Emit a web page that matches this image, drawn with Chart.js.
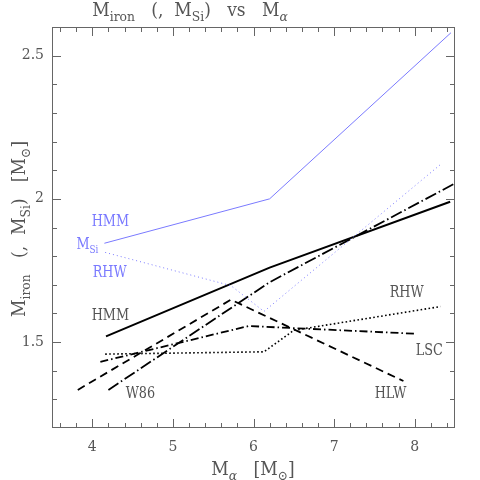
<!DOCTYPE html>
<html>
<head>
<meta charset="utf-8">
<script src="https://cdn.jsdelivr.net/npm/chart.js@4/dist/chart.umd.min.js"></script>
<style>
	html, body { margin: 0; padding: 0; background: #fff; }
	#wrap { width: 480px; height: 480px; }
</style>
</head>
<body>
<div id="wrap"><canvas id="chart-miron"></canvas></div>
<script>
// M_alpha on x, M_iron (or M_Si) on y
const hmmSiX = [4.15, 6.2, 8.45];
const hmmSiY = [1.845, 2.0, 2.58];
const rhwSiX = [4.16, 5.72, 6.13, 8.32];
const rhwSiY = [1.813, 1.697, 1.607, 2.12];

const hmmFeX = [4.17, 6.2, 8.44];
const hmmFeY = [1.52, 1.76, 1.99];
const w86FeX = [4.2, 6.2, 8.5];
const w86FeY = [1.333, 1.709, 2.054];
const hlwFeX = [3.82, 5.72, 7.86];
const hlwFeY = [1.333, 1.648, 1.364];
const lscFeX = [4.1, 5.94, 8.02];
const lscFeY = [1.431, 1.556, 1.529];
const rhwFeX = [4.16, 6.13, 6.5, 8.32];
const rhwFeY = [1.458, 1.466, 1.541, 1.624];

const xMajor = [4, 5, 6, 7, 8];
const yMajor = [1.5, 2, 2.5];

const BLUE = '#7a7aff';
const GREY = '#555';
const FONT = "'DejaVu Serif'";

// text labels next to the curves, placed in data units
const curveLabels = [
	{ parts: [['HMM']], x: 4.224, y: 1.919, color: BLUE },
	{ parts: [['M'], ['Si', 1]], x: 3.94, y: 1.839, color: BLUE },
	{ parts: [['RHW']], x: 4.216, y: 1.74, color: BLUE },
	{ parts: [['HMM']], x: 4.224, y: 1.59, color: GREY },
	{ parts: [['RHW']], x: 7.90, y: 1.671, color: GREY },
	{ parts: [['LSC']], x: 8.18, y: 1.468, color: GREY },
	{ parts: [['W86']], x: 4.597, y: 1.319, color: GREY },
	{ parts: [['HLW']], x: 7.70, y: 1.319, color: GREY }
];

function toPoints(xs, ys) {
	return xs.map((x, i) => ({ x: x, y: ys[i] }));
}

function isMajor(v, list) {
	return list.some((m) => Math.abs(m - v) < 1e-6);
}

// minor + major tick values between lo and hi
function tickValues(lo, hi, step) {
	let out = [];
	let n = Math.round((hi - lo) / step);
	for (let i = 0; i <= n; i++) out.push({ value: Math.round((lo + i * step) * 1000) / 1000 });
	return out;
}

// draw a string made of normal and subscript pieces, centred on x
function drawRich(ctx, parts, x, y, size, squeeze) {
	const subSize = Math.round(size * 0.7);
	const sq = squeeze || 1;
	let total = 0;
	parts.forEach((p) => {
		ctx.font = (p[2] ? 'italic ' : '') + (p[1] ? subSize : size) + 'px ' + FONT;
		total += ctx.measureText(p[0]).width;
	});
	ctx.save();
	ctx.translate(x, y);
	ctx.scale(sq, 1);
	let cx = -total / 2;
	parts.forEach((p) => {
		ctx.font = (p[2] ? 'italic ' : '') + (p[1] ? subSize : size) + 'px ' + FONT;
		ctx.fillText(p[0], cx, p[1] ? size * 0.3 : 0);
		cx += ctx.measureText(p[0]).width;
	});
	ctx.restore();
}

const framePlugin = {
	id: 'frame',
	afterDraw(chart) {
		const ctx = chart.ctx;
		const a = chart.chartArea;
		const xs = chart.scales.x;
		const ys = chart.scales.y;
		ctx.save();
		ctx.strokeStyle = '#666';
		ctx.lineWidth = 1;
		ctx.strokeRect(a.left + 0.5, a.top + 0.5, a.right - a.left - 1, a.bottom - a.top - 1);
		ctx.beginPath();
		xs.ticks.forEach((t) => {
			const px = Math.round(xs.getPixelForValue(t.value)) + 0.5;
			const len = isMajor(t.value, xMajor) ? 9 : 5;
			ctx.moveTo(px, a.bottom); ctx.lineTo(px, a.bottom - len);
			ctx.moveTo(px, a.top); ctx.lineTo(px, a.top + len);
		});
		ys.ticks.forEach((t) => {
			const py = Math.round(ys.getPixelForValue(t.value)) + 0.5;
			const len = isMajor(t.value, yMajor) ? 9 : 5;
			ctx.moveTo(a.left, py); ctx.lineTo(a.left + len, py);
			ctx.moveTo(a.right, py); ctx.lineTo(a.right - len, py);
		});
		ctx.stroke();

		ctx.textBaseline = 'alphabetic';
		ctx.fillStyle = GREY;
		// title
		drawRich(ctx, [['M'], ['iron', 1], ['   (,  M'], ['Si', 1], [')   vs   M'], ['\u03b1', 1, 1]], 190, 16, 18, 0.95);
		// x title
		drawRich(ctx, [['M'], ['\u03b1', 1, 1], ['   [M'], ['\u2299', 1], [']']], 253, 475, 18, 0.95);
		// y title
		ctx.save();
		ctx.translate(25, 229);
		ctx.rotate(-Math.PI / 2);
		drawRich(ctx, [['M'], ['iron', 1], ['   (,  M'], ['Si', 1], [')   [M'], ['\u2299', 1], [']']], 0, 0, 18, 0.95);
		ctx.restore();

		// curve labels
		ctx.textBaseline = 'middle';
		curveLabels.forEach((l) => {
			ctx.fillStyle = l.color;
			drawRich(ctx, l.parts, xs.getPixelForValue(l.x), ys.getPixelForValue(l.y), 16, 0.8);
		});
		ctx.restore();
	}
};

let ctxEl = document.getElementById('chart-miron');
let miChart = new Chart(ctxEl, {
	type: 'scatter',
	data: {
		datasets: [
			{ label: 'HMM Si', data: toPoints(hmmSiX, hmmSiY), borderColor: BLUE, borderWidth: 1 },
			{ label: 'RHW Si', data: toPoints(rhwSiX, rhwSiY), borderColor: BLUE, borderWidth: 1, borderDash: [1, 3] },
			{ label: 'HMM', data: toPoints(hmmFeX, hmmFeY), borderColor: '#000', borderWidth: 2 },
			{ label: 'W86', data: toPoints(w86FeX, w86FeY), borderColor: '#000', borderWidth: 1.8, borderDash: [12, 3, 1.5, 3] },
			{ label: 'HLW', data: toPoints(hlwFeX, hlwFeY), borderColor: '#000', borderWidth: 1.8, borderDash: [8, 5] },
			{ label: 'LSC', data: toPoints(lscFeX, lscFeY), borderColor: '#000', borderWidth: 1.8, borderDash: [8, 3, 1.5, 3] },
			{ label: 'RHW', data: toPoints(rhwFeX, rhwFeY), borderColor: '#000', borderWidth: 1.6, borderDash: [1.6, 2.4] }
		]
	},
	options: {
		responsive: true,
		maintainAspectRatio: false,
		animation: false,
		showLine: true,
		elements: {
			point: { radius: 0 },
			line: { tension: 0, fill: false, borderCapStyle: 'butt' }
		},
		layout: { padding: { top: 27, right: 25, left: 0, bottom: 0 } },
		plugins: {
			legend: { display: false },
			tooltip: { enabled: false }
		},
		scales: {
			x: {
				type: 'linear',
				min: 3.5,
				max: 8.5,
				grid: { display: false, drawTicks: false },
				border: { display: false },
				afterFit: (s) => { s.height = 52; },
				afterBuildTicks: (s) => { s.ticks = tickValues(3.6, 8.4, 0.2); },
				ticks: {
					autoSkip: false,
					maxRotation: 0,
					padding: 11,
					color: GREY,
					font: { family: 'DejaVu Serif', size: 14 },
					callback: (v) => isMajor(v, xMajor) ? String(Math.round(v)) : ''
				}
			},
			y: {
				type: 'linear',
				min: 1.2,
				max: 2.6,
				grid: { display: false, drawTicks: false },
				border: { display: false },
				afterFit: (s) => { s.width = 52; },
				afterBuildTicks: (s) => { s.ticks = tickValues(1.3, 2.5, 0.1); },
				ticks: {
					autoSkip: false,
					padding: 8,
					color: GREY,
					font: { family: 'DejaVu Serif', size: 14 },
					callback: (v) => isMajor(v, yMajor) ? String(parseFloat(v.toFixed(1))) : ''
				}
			}
		}
	},
	plugins: [framePlugin]
});
</script>
</body>
</html>
